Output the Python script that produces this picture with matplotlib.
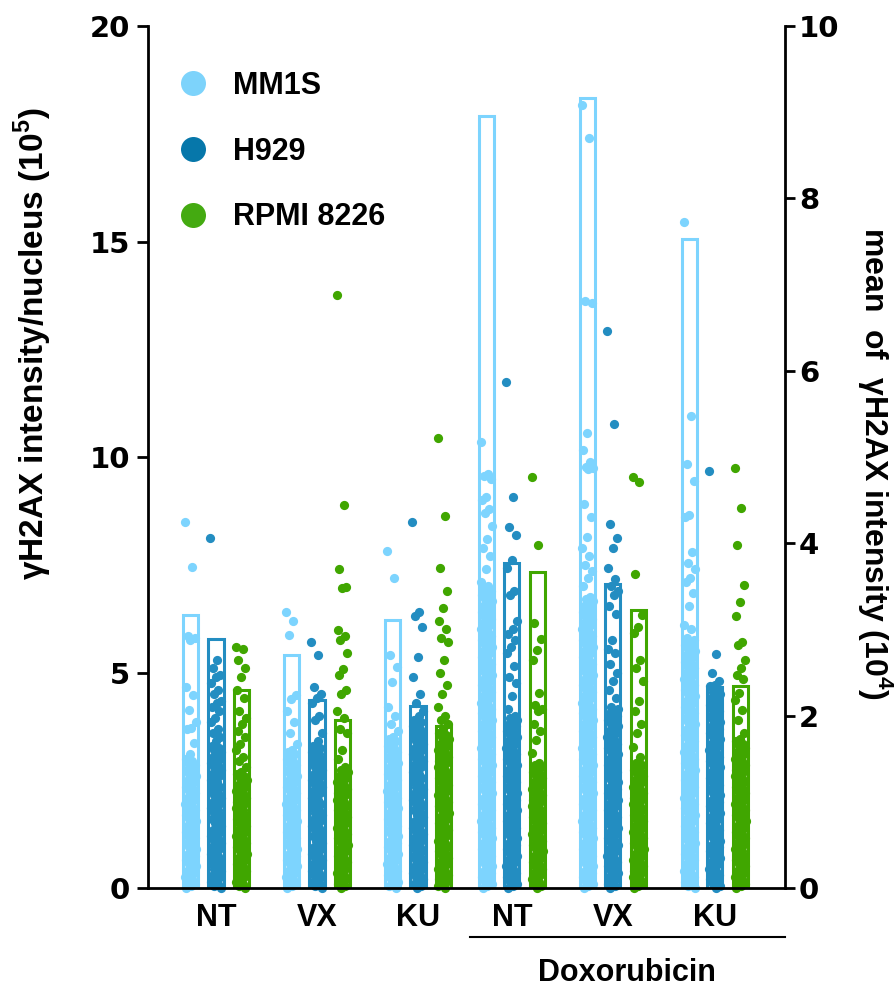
import matplotlib.pyplot as plt
import matplotlib.transforms as mtransforms
import numpy as np
from matplotlib.lines import Line2D

plt.rcParams['mathtext.fontset'] = 'custom'
plt.rcParams['mathtext.rm'] = 'Liberation Sans:bold'
plt.rcParams['mathtext.bf'] = 'Liberation Sans:bold'

treatments = ['NT', 'VX', 'KU', 'NT', 'VX', 'KU']
cell_lines = ['MM1S', 'H929', 'RPMI 8226']

# mean of yH2AX intensity (10^4), right axis
mm1s_mean = [3.17, 2.70, 3.11, 8.96, 9.16, 7.53]
h929_mean = [2.89, 2.18, 2.11, 3.77, 3.53, 2.33]
rpmi_mean = [2.30, 1.95, 1.88, 3.67, 3.22, 2.34]

# yH2AX intensity per nucleus (10^5), left axis
mm1s_nt = [8.5, 7.45, 5.85, 5.8, 5.75, 4.67, 4.48, 4.13, 3.86, 3.72, 3.68, 3.36, 3.1,
           3.0, 2.95, 2.9, 2.85, 2.8, 2.75, 2.7, 2.65, 2.6, 2.55, 2.5, 2.45, 2.4, 2.35,
           2.3, 2.25, 2.2, 2.15, 2.1, 2.05, 2.0, 1.95, 1.9, 1.85, 1.8, 1.75, 1.7, 1.65,
           1.6, 1.55, 1.5, 1.45, 1.4, 1.35, 1.3, 1.25, 1.2, 1.15, 1.1, 1.05, 1.0, 0.95,
           0.9, 0.85, 0.8, 0.75, 0.7, 0.65, 0.6, 0.55, 0.5, 0.45, 0.4, 0.35, 0.3, 0.25,
           0.2, 0.15, 0.1, 0.05, 0.0]
h929_nt = [8.12, 5.3, 5.1, 4.95, 4.9, 4.75, 4.6, 4.5, 4.35, 4.3, 4.2, 4.1, 3.95, 3.85,
           3.7, 3.6, 3.5, 3.4, 3.3, 3.25, 3.2, 3.15, 3.1, 3.05, 3.0, 2.95, 2.9, 2.85,
           2.8, 2.75, 2.7, 2.65, 2.6, 2.55, 2.5, 2.45, 2.4, 2.35, 2.3, 2.25, 2.2, 2.15,
           2.1, 2.05, 2.0, 1.95, 1.9, 1.85, 1.8, 1.75, 1.7, 1.65, 1.6, 1.55, 1.5, 1.45,
           1.4, 1.35, 1.3, 1.25, 1.2, 1.15, 1.1, 1.05, 1.0, 0.95, 0.9, 0.85, 0.8, 0.75,
           0.7, 0.65, 0.6, 0.55, 0.5, 0.45, 0.4, 0.35, 0.3, 0.25, 0.2, 0.15, 0.1, 0.05,
           0.0]
rpmi_nt = [5.6, 5.55, 5.3, 5.1, 4.9, 4.6, 4.4, 4.1, 3.95, 3.8, 3.65, 3.5, 3.35, 3.2,
           3.05, 2.95, 2.8, 2.7, 2.65, 2.6, 2.55, 2.5, 2.45, 2.4, 2.35, 2.3, 2.25, 2.2,
           2.15, 2.1, 2.05, 2.0, 1.95, 1.9, 1.85, 1.8, 1.75, 1.7, 1.65, 1.6, 1.55, 1.5,
           1.45, 1.4, 1.35, 1.3, 1.25, 1.2, 1.15, 1.1, 1.05, 1.0, 0.95, 0.9, 0.85, 0.8,
           0.75, 0.7, 0.65, 0.6, 0.55, 0.5, 0.45, 0.4, 0.35, 0.3, 0.25, 0.2, 0.15, 0.1,
           0.05, 0.0]
mm1s_vx = [6.4, 6.2, 5.87, 4.48, 4.38, 4.1, 3.86, 3.6, 3.35, 3.2, 3.15, 3.1, 3.05,
           3.0, 2.95, 2.9, 2.85, 2.8, 2.75, 2.7, 2.65, 2.6, 2.55, 2.5, 2.45, 2.4, 2.35,
           2.3, 2.25, 2.2, 2.15, 2.1, 2.05, 2.0, 1.95, 1.9, 1.85, 1.8, 1.75, 1.7, 1.65,
           1.6, 1.55, 1.5, 1.45, 1.4, 1.35, 1.3, 1.25, 1.2, 1.15, 1.1, 1.05, 1.0, 0.95,
           0.9, 0.85, 0.8, 0.75, 0.7, 0.65, 0.6, 0.55, 0.5, 0.45, 0.4, 0.35, 0.3, 0.25,
           0.2, 0.15, 0.1, 0.05, 0.0]
h929_vx = [5.7, 5.4, 4.66, 4.5, 4.4, 4.3, 4.0, 3.9, 3.6, 3.4, 3.3, 3.25, 3.2, 3.15,
           3.1, 3.05, 3.0, 2.95, 2.9, 2.85, 2.8, 2.75, 2.7, 2.65, 2.6, 2.55, 2.5, 2.45,
           2.4, 2.35, 2.3, 2.25, 2.2, 2.15, 2.1, 2.05, 2.0, 1.95, 1.9, 1.85, 1.8, 1.75,
           1.7, 1.65, 1.6, 1.55, 1.5, 1.45, 1.4, 1.35, 1.3, 1.25, 1.2, 1.15, 1.1, 1.05,
           1.0, 0.95, 0.9, 0.85, 0.8, 0.75, 0.7, 0.65, 0.6, 0.55, 0.5, 0.45, 0.4, 0.35,
           0.3, 0.25, 0.2, 0.15, 0.1, 0.05, 0.0]
rpmi_vx = [13.75, 8.88, 7.4, 6.98, 6.95, 5.98, 5.85, 5.75, 5.45, 5.08, 4.95, 4.6, 4.5,
           4.1, 3.95, 3.7, 3.6, 3.2, 3.0, 2.8, 2.75, 2.7, 2.65, 2.6, 2.55, 2.5, 2.45,
           2.4, 2.35, 2.3, 2.25, 2.2, 2.15, 2.1, 2.05, 2.0, 1.95, 1.9, 1.85, 1.8, 1.75,
           1.7, 1.65, 1.6, 1.55, 1.5, 1.45, 1.4, 1.35, 1.3, 1.25, 1.2, 1.15, 1.1, 1.05,
           1.0, 0.95, 0.9, 0.85, 0.8, 0.75, 0.7, 0.65, 0.6, 0.55, 0.5, 0.45, 0.4, 0.35,
           0.3, 0.25, 0.2, 0.15, 0.1, 0.05, 0.0]
mm1s_ku = [7.82, 7.2, 5.4, 5.13, 4.78, 4.2, 4.0, 3.8, 3.65, 3.5, 3.45, 3.4, 3.35, 3.3,
           3.25, 3.2, 3.15, 3.1, 3.05, 3.0, 2.95, 2.9, 2.85, 2.8, 2.75, 2.7, 2.65, 2.6,
           2.55, 2.5, 2.45, 2.4, 2.35, 2.3, 2.25, 2.2, 2.15, 2.1, 2.05, 2.0, 1.95, 1.9,
           1.85, 1.8, 1.75, 1.7, 1.65, 1.6, 1.55, 1.5, 1.45, 1.4, 1.35, 1.3, 1.25, 1.2,
           1.15, 1.1, 1.05, 1.0, 0.95, 0.9, 0.85, 0.8, 0.75, 0.7, 0.65, 0.6, 0.55, 0.5,
           0.45, 0.4, 0.35, 0.3, 0.25, 0.2, 0.15, 0.1, 0.05, 0.0]
h929_ku = [8.5, 6.4, 6.3, 6.05, 5.35, 4.9, 4.5, 4.3, 4.1, 4.0, 3.9, 3.85, 3.8, 3.75,
           3.7, 3.65, 3.6, 3.55, 3.5, 3.45, 3.4, 3.35, 3.3, 3.25, 3.2, 3.15, 3.1, 3.05,
           3.0, 2.95, 2.9, 2.85, 2.8, 2.75, 2.7, 2.65, 2.6, 2.55, 2.5, 2.45, 2.4, 2.35,
           2.3, 2.25, 2.2, 2.15, 2.1, 2.05, 2.0, 1.95, 1.9, 1.85, 1.8, 1.75, 1.7, 1.65,
           1.6, 1.55, 1.5, 1.45, 1.4, 1.35, 1.3, 1.25, 1.2, 1.15, 1.1, 1.05, 1.0, 0.95,
           0.9, 0.85, 0.8, 0.75, 0.7, 0.65, 0.6, 0.55, 0.5, 0.45, 0.4, 0.35, 0.3, 0.25,
           0.2, 0.15, 0.1, 0.05, 0.0]
rpmi_ku = [10.44, 8.63, 7.42, 6.9, 6.5, 6.2, 6.0, 5.8, 5.7, 5.3, 5.0, 4.7, 4.5, 4.2,
           4.0, 3.9, 3.8, 3.7, 3.6, 3.55, 3.5, 3.45, 3.4, 3.35, 3.3, 3.25, 3.2, 3.15,
           3.1, 3.05, 3.0, 2.95, 2.9, 2.85, 2.8, 2.75, 2.7, 2.65, 2.6, 2.55, 2.5, 2.45,
           2.4, 2.35, 2.3, 2.25, 2.2, 2.15, 2.1, 2.05, 2.0, 1.95, 1.9, 1.85, 1.8, 1.75,
           1.7, 1.65, 1.6, 1.55, 1.5, 1.45, 1.4, 1.35, 1.3, 1.25, 1.2, 1.15, 1.1, 1.05,
           1.0, 0.95, 0.9, 0.85, 0.8, 0.75, 0.7, 0.65, 0.6, 0.55, 0.5, 0.45, 0.4, 0.35,
           0.3, 0.25, 0.2, 0.15, 0.1, 0.05, 0.0]
mm1s_dox_nt = [10.35, 9.6, 9.55, 9.5, 9.07, 9.0, 8.8, 8.7, 8.4, 8.1, 7.9, 7.7, 7.4,
               7.1, 7.0, 6.95, 6.9, 6.85, 6.8, 6.75, 6.7, 6.65, 6.6, 6.55, 6.5, 6.45,
               6.4, 6.35, 6.3, 6.25, 6.2, 6.15, 6.1, 6.05, 6.0, 5.95, 5.9, 5.85, 5.8,
               5.75, 5.7, 5.65, 5.6, 5.55, 5.5, 5.45, 5.4, 5.35, 5.3, 5.25, 5.2, 5.15,
               5.1, 5.05, 5.0, 4.95, 4.9, 4.85, 4.8, 4.75, 4.7, 4.65, 4.6, 4.55, 4.5,
               4.45, 4.4, 4.35, 4.3, 4.25, 4.2, 4.15, 4.1, 4.05, 4.0, 3.95, 3.9, 3.85,
               3.8, 3.75, 3.7, 3.65, 3.6, 3.55, 3.5, 3.45, 3.4, 3.35, 3.3, 3.25, 3.2,
               3.15, 3.1, 3.05, 3.0, 2.95, 2.9, 2.85, 2.8, 2.75, 2.7, 2.65, 2.6, 2.55,
               2.5, 2.45, 2.4, 2.35, 2.3, 2.25, 2.2, 2.15, 2.1, 2.05, 2.0, 1.95, 1.9,
               1.85, 1.8, 1.75, 1.7, 1.65, 1.6, 1.55, 1.5, 1.45, 1.4, 1.35, 1.3, 1.25,
               1.2, 1.15, 1.1, 1.05, 1.0, 0.95, 0.9, 0.85, 0.8, 0.75, 0.7, 0.65, 0.6,
               0.55, 0.5, 0.45, 0.4, 0.35, 0.3, 0.25, 0.2, 0.15, 0.1, 0.05, 0.0]
h929_dox_nt = [11.74, 9.07, 8.38, 8.19, 7.6, 7.42, 6.9, 6.8, 6.2, 6.0, 5.9, 5.75, 5.6,
               5.45, 5.15, 4.9, 4.75, 4.45, 4.15, 4.0, 3.95, 3.9, 3.85, 3.8, 3.75, 3.7,
               3.65, 3.6, 3.55, 3.5, 3.45, 3.4, 3.35, 3.3, 3.25, 3.2, 3.15, 3.1, 3.05,
               3.0, 2.95, 2.9, 2.85, 2.8, 2.75, 2.7, 2.65, 2.6, 2.55, 2.5, 2.45, 2.4,
               2.35, 2.3, 2.25, 2.2, 2.15, 2.1, 2.05, 2.0, 1.95, 1.9, 1.85, 1.8, 1.75,
               1.7, 1.65, 1.6, 1.55, 1.5, 1.45, 1.4, 1.35, 1.3, 1.25, 1.2, 1.15, 1.1,
               1.05, 1.0, 0.95, 0.9, 0.85, 0.8, 0.75, 0.7, 0.65, 0.6, 0.55, 0.5, 0.45,
               0.4, 0.35, 0.3, 0.25, 0.2, 0.15, 0.1, 0.05, 0.0]
rpmi_dox_nt = [9.54, 7.96, 6.15, 5.78, 5.52, 5.29, 4.52, 4.25, 4.15, 4.1, 3.8, 3.65,
               3.43, 3.13, 2.9, 2.85, 2.8, 2.75, 2.7, 2.65, 2.6, 2.55, 2.5, 2.45, 2.4,
               2.35, 2.3, 2.25, 2.2, 2.15, 2.1, 2.05, 2.0, 1.95, 1.9, 1.85, 1.8, 1.75,
               1.7, 1.65, 1.6, 1.55, 1.5, 1.45, 1.4, 1.35, 1.3, 1.25, 1.2, 1.15, 1.1,
               1.05, 1.0, 0.95, 0.9, 0.85, 0.8, 0.75, 0.7, 0.65, 0.6, 0.55, 0.5, 0.45,
               0.4, 0.35, 0.3, 0.25, 0.2, 0.15, 0.1, 0.05, 0.0]
mm1s_dox_vx = [18.17, 17.4, 13.62, 13.58, 10.56, 10.16, 9.88, 9.76, 9.74, 9.72, 8.9,
               8.6, 8.15, 7.9, 7.7, 7.5, 7.35, 7.2, 7.0, 6.75, 6.7, 6.65, 6.6, 6.55,
               6.5, 6.45, 6.4, 6.35, 6.3, 6.25, 6.2, 6.15, 6.1, 6.05, 6.0, 5.95, 5.9,
               5.85, 5.8, 5.75, 5.7, 5.65, 5.6, 5.55, 5.5, 5.45, 5.4, 5.35, 5.3, 5.25,
               5.2, 5.15, 5.1, 5.05, 5.0, 4.95, 4.9, 4.85, 4.8, 4.75, 4.7, 4.65, 4.6,
               4.55, 4.5, 4.45, 4.4, 4.35, 4.3, 4.25, 4.2, 4.15, 4.1, 4.05, 4.0, 3.95,
               3.9, 3.85, 3.8, 3.75, 3.7, 3.65, 3.6, 3.55, 3.5, 3.45, 3.4, 3.35, 3.3,
               3.25, 3.2, 3.15, 3.1, 3.05, 3.0, 2.95, 2.9, 2.85, 2.8, 2.75, 2.7, 2.65,
               2.6, 2.55, 2.5, 2.45, 2.4, 2.35, 2.3, 2.25, 2.2, 2.15, 2.1, 2.05, 2.0,
               1.95, 1.9, 1.85, 1.8, 1.75, 1.7, 1.65, 1.6, 1.55, 1.5, 1.45, 1.4, 1.35,
               1.3, 1.25, 1.2, 1.15, 1.1, 1.05, 1.0, 0.95, 0.9, 0.85, 0.8, 0.75, 0.7,
               0.65, 0.6, 0.55, 0.5, 0.45, 0.4, 0.35, 0.3, 0.25, 0.2, 0.15, 0.1, 0.05,
               0.0]
h929_dox_vx = [12.92, 10.77, 8.44, 8.12, 7.89, 7.42, 7.18, 7.0, 6.9, 6.8, 6.55, 6.35,
               5.75, 5.55, 5.45, 5.2, 5.0, 4.8, 4.6, 4.4, 4.2, 4.15, 4.1, 4.05, 4.0,
               3.95, 3.9, 3.85, 3.8, 3.75, 3.7, 3.65, 3.6, 3.55, 3.5, 3.45, 3.4, 3.35,
               3.3, 3.25, 3.2, 3.15, 3.1, 3.05, 3.0, 2.95, 2.9, 2.85, 2.8, 2.75, 2.7,
               2.65, 2.6, 2.55, 2.5, 2.45, 2.4, 2.35, 2.3, 2.25, 2.2, 2.15, 2.1, 2.05,
               2.0, 1.95, 1.9, 1.85, 1.8, 1.75, 1.7, 1.65, 1.6, 1.55, 1.5, 1.45, 1.4,
               1.35, 1.3, 1.25, 1.2, 1.15, 1.1, 1.05, 1.0, 0.95, 0.9, 0.85, 0.8, 0.75,
               0.7, 0.65, 0.6, 0.55, 0.5, 0.45, 0.4, 0.35, 0.3, 0.25, 0.2, 0.15, 0.1,
               0.05, 0.0]
rpmi_dox_vx = [9.54, 9.42, 7.28, 6.33, 6.05, 5.92, 5.3, 5.1, 4.8, 4.35, 4.1, 3.8, 3.6,
               3.27, 3.05, 2.9, 2.85, 2.8, 2.75, 2.7, 2.65, 2.6, 2.55, 2.5, 2.45, 2.4,
               2.35, 2.3, 2.25, 2.2, 2.15, 2.1, 2.05, 2.0, 1.95, 1.9, 1.85, 1.8, 1.75,
               1.7, 1.65, 1.6, 1.55, 1.5, 1.45, 1.4, 1.35, 1.3, 1.25, 1.2, 1.15, 1.1,
               1.05, 1.0, 0.95, 0.9, 0.85, 0.8, 0.75, 0.7, 0.65, 0.6, 0.55, 0.5, 0.45,
               0.4, 0.35, 0.3, 0.25, 0.2, 0.15, 0.1, 0.05, 0.0]
mm1s_dox_ku = [15.45, 10.95, 9.83, 9.45, 8.65, 8.6, 7.8, 7.55, 7.4, 7.2, 7.1, 6.85,
               6.55, 6.1, 6.0, 5.8, 5.75, 5.7, 5.65, 5.6, 5.55, 5.5, 5.45, 5.4, 5.35,
               5.3, 5.25, 5.2, 5.15, 5.1, 5.05, 5.0, 4.95, 4.9, 4.85, 4.8, 4.75, 4.7,
               4.65, 4.6, 4.55, 4.5, 4.45, 4.4, 4.35, 4.3, 4.25, 4.2, 4.15, 4.1, 4.05,
               4.0, 3.95, 3.9, 3.85, 3.8, 3.75, 3.7, 3.65, 3.6, 3.55, 3.5, 3.45, 3.4,
               3.35, 3.3, 3.25, 3.2, 3.15, 3.1, 3.05, 3.0, 2.95, 2.9, 2.85, 2.8, 2.75,
               2.7, 2.65, 2.6, 2.55, 2.5, 2.45, 2.4, 2.35, 2.3, 2.25, 2.2, 2.15, 2.1,
               2.05, 2.0, 1.95, 1.9, 1.85, 1.8, 1.75, 1.7, 1.65, 1.6, 1.55, 1.5, 1.45,
               1.4, 1.35, 1.3, 1.25, 1.2, 1.15, 1.1, 1.05, 1.0, 0.95, 0.9, 0.85, 0.8,
               0.75, 0.7, 0.65, 0.6, 0.55, 0.5, 0.45, 0.4, 0.35, 0.3, 0.25, 0.2, 0.15,
               0.1, 0.05, 0.0]
h929_dox_ku = [9.68, 5.43, 4.99, 4.8, 4.7, 4.68, 4.6, 4.55, 4.5, 4.45, 4.4, 4.35,
               4.3, 4.25, 4.2, 4.15, 4.1, 4.05, 4.0, 3.95, 3.9, 3.85, 3.8, 3.75, 3.7,
               3.65, 3.6, 3.55, 3.5, 3.45, 3.4, 3.35, 3.3, 3.25, 3.2, 3.15, 3.1, 3.05,
               3.0, 2.95, 2.9, 2.85, 2.8, 2.75, 2.7, 2.65, 2.6, 2.55, 2.5, 2.45, 2.4,
               2.35, 2.3, 2.25, 2.2, 2.15, 2.1, 2.05, 2.0, 1.95, 1.9, 1.85, 1.8, 1.75,
               1.7, 1.65, 1.6, 1.55, 1.5, 1.45, 1.4, 1.35, 1.3, 1.25, 1.2, 1.15, 1.1,
               1.05, 1.0, 0.95, 0.9, 0.85, 0.8, 0.75, 0.7, 0.65, 0.6, 0.55, 0.5, 0.45,
               0.4, 0.35, 0.3, 0.25, 0.2, 0.15, 0.1, 0.05, 0.0]
rpmi_dox_ku = [9.74, 8.81, 7.96, 7.03, 6.63, 6.31, 5.7, 5.65, 5.29, 5.1, 4.94, 4.85,
               4.52, 4.37, 4.13, 3.9, 3.6, 3.45, 3.4, 3.35, 3.3, 3.25, 3.2, 3.15, 3.1,
               3.05, 3.0, 2.95, 2.9, 2.85, 2.8, 2.75, 2.7, 2.65, 2.6, 2.55, 2.5, 2.45,
               2.4, 2.35, 2.3, 2.25, 2.2, 2.15, 2.1, 2.05, 2.0, 1.95, 1.9, 1.85, 1.8,
               1.75, 1.7, 1.65, 1.6, 1.55, 1.5, 1.45, 1.4, 1.35, 1.3, 1.25, 1.2, 1.15,
               1.1, 1.05, 1.0, 0.95, 0.9, 0.85, 0.8, 0.75, 0.7, 0.65, 0.6, 0.55, 0.5,
               0.45, 0.4, 0.35, 0.3, 0.25, 0.2, 0.15, 0.1, 0.05, 0.0]

mm1s_cells = [mm1s_nt, mm1s_vx, mm1s_ku, mm1s_dox_nt, mm1s_dox_vx, mm1s_dox_ku]
h929_cells = [h929_nt, h929_vx, h929_ku, h929_dox_nt, h929_dox_vx, h929_dox_ku]
rpmi_cells = [rpmi_nt, rpmi_vx, rpmi_ku, rpmi_dox_nt, rpmi_dox_vx, rpmi_dox_ku]

dot_colors = ['#7dd4fe', '#238dc1', '#40a600']
legend_colors = ['#7dd3fb', '#0677aa', '#44aa11']

group_pos = np.array([0, 1, 2, 2.93, 3.93, 4.94])
offsets = [-0.25, 0, 0.25]

fig = plt.figure(figsize=(8.96, 9.92), dpi=100)
ax = fig.add_axes([0.1652, 0.1048, 0.7109, 0.869])
ax2 = ax.twinx()
ax.set_zorder(2)
ax2.set_zorder(1)
ax.patch.set_visible(False)

series = zip([mm1s_cells, h929_cells, rpmi_cells],
             [mm1s_mean, h929_mean, rpmi_mean], dot_colors, offsets)
for cells, means, color, off in series:
    ax2.bar(group_pos + off, means, width=0.15, fill=False,
            edgecolor=color, linewidth=2.2)
    for x0, vals in zip(group_pos + off, cells):
        idx = np.arange(len(vals))
        jitter = ((idx * 0.618034) % 1 - 0.5) * 0.11
        ax.scatter(x0 + jitter, vals, s=44, color=color, linewidths=0,
                   clip_on=False, zorder=2)

ax.set_xlim(-0.673, 5.634)
ax.set_ylim(0, 20)
ax2.set_ylim(0, 10)
ax.set_yticks([0, 5, 10, 15, 20])
ax2.set_yticks([0, 2, 4, 6, 8, 10])

for a in (ax, ax2):
    a.spines['top'].set_visible(False)
    for s in a.spines.values():
        s.set_linewidth(2)
ax.spines['right'].set_visible(False)
ax2.spines['left'].set_visible(False)
ax2.spines['bottom'].set_visible(False)

ax.tick_params(axis='y', length=8, width=2, pad=5)
ax2.tick_params(axis='y', length=7, width=2, pad=3)
for lab in ax.get_yticklabels() + ax2.get_yticklabels():
    lab.set_fontfamily('DejaVu Sans')
    lab.set_fontweight('bold')
    lab.set_fontsize(21)

ax.set_xticks(group_pos)
ax.set_xticklabels(treatments, fontfamily='Liberation Sans', fontweight='bold',
                   fontsize=22)
ax.tick_params(axis='x', length=0, pad=11)

ax.set_ylabel(r'γH2AX intensity/nucleus (10$^{5}$)', fontfamily='Liberation Sans',
              fontweight='bold', fontsize=24)
ax2.set_ylabel(r'mean  of  γH2AX intensity (10$^{4}$)', fontfamily='Liberation Sans',
               fontweight='bold', fontsize=23, rotation=270)
ax.yaxis.set_label_coords(-0.147, 0.632)
ax2.yaxis.set_label_coords(1.172, 0.492)

trans = mtransforms.blended_transform_factory(ax.transData, ax.transAxes)
ax.plot([2.515, 5.634], [-0.0568, -0.0568], transform=trans, color='black',
        linewidth=1.5, clip_on=False)
ax.text(4.07, -0.0986, 'Doxorubicin', transform=trans, ha='center', va='center',
        fontfamily='Liberation Sans', fontweight='bold', fontsize=22)

handles = [Line2D([], [], marker='o', linestyle='', markersize=18, color=c,
                  markeredgewidth=0) for c in legend_colors]
ax.legend(handles, cell_lines, loc='upper left', bbox_to_anchor=(0.047, 0.948),
          frameon=False, borderaxespad=0, borderpad=0, handlelength=1.0,
          handletextpad=0.8, labelspacing=1.17,
          prop={'family': 'Liberation Sans', 'weight': 'bold', 'size': 22})

fig.savefig('out.png', dpi=100)
